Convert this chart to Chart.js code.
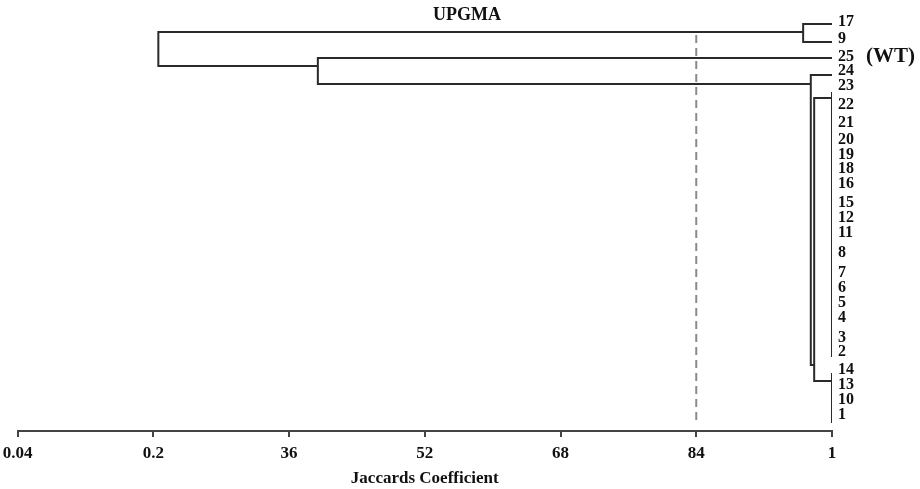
<!DOCTYPE html>
<html>
<head>
<meta charset="utf-8">
<script src="https://cdn.jsdelivr.net/npm/chart.js@4.4.1/dist/chart.umd.min.js"></script>
<style>
  html, body { margin: 0; background: #fff; }
  #wrap { width: 920px; height: 489px; }
</style>
</head>
<body>
<div id="wrap"><canvas id="tree"></canvas></div>
<script>
// similarity axis: tick values and the labels printed under them
const xTickValues = [4, 20, 36, 52, 68, 84, 100];
const xTickLabels = ["0.04", "0.2", "36", "52", "68", "84", "1"];

// leaves, top to bottom, with their row position
const leafLabels = ["17", "9", "25", "24", "23", "22", "21", "20", "19", "18", "16", "15", "12",
                    "11", "8", "7", "6", "5", "4", "3", "2", "14", "13", "10", "1"];
const leafPos = [22, 39, 57, 71, 86, 105, 123, 140, 155, 169, 184, 203, 218,
                 233, 253, 273, 288, 303, 318, 338, 352, 370, 385, 400, 415];

// branches as [similarity, row] polylines
const branch17_9 = [[100, 24], [96.6, 24], [96.6, 42], [100, 42]];
const branchRoot = [[96.6, 32], [20.6, 32], [20.6, 66], [39.4, 66]];
const branch25 = [[100, 58], [39.4, 58], [39.4, 84], [97.5, 84]];
const branch24 = [[100, 75], [97.5, 75], [97.5, 365], [97.9, 365]];
const branchGroups = [[100, 98], [97.9, 98], [97.9, 381], [100, 381]];
const groupA = [[100, 92], [100, 357]];
const groupB = [[100, 373], [100, 423]];
const cutoffLine = [[84, 35], [84, 421]];

const serif = "'Liberation Serif', 'Times New Roman', serif";
const ink = "#2a2a2a";

const toPts = arr => arr.map(p => ({ x: p[0], y: p[1] }));
const treeSets = [branch17_9, branchRoot, branch25, branch24, branchGroups, groupA, groupB].map(b => ({
  data: toPts(b),
  showLine: true,
  borderColor: ink,
  borderWidth: 2,
  pointRadius: 0,
  tension: 0
}));
treeSets.push({
  data: toPts(cutoffLine),
  showLine: true,
  borderColor: "#8a8a8a",
  borderWidth: 2,
  borderDash: [8, 5],
  pointRadius: 0
});

const extraText = {
  id: "extraText",
  afterDraw(chart) {
    const ctx = chart.ctx;
    const ys = chart.scales.y;
    ctx.save();
    ctx.fillStyle = "#111";
    ctx.textBaseline = "middle";
    ctx.textAlign = "center";
    ctx.font = "bold 18px " + serif;
    ctx.fillText("UPGMA", 467, 15);
    ctx.textAlign = "left";
    ctx.font = "bold 21px " + serif;
    ctx.fillText("(WT)", 866, ys.getPixelForValue(leafPos[2]));
    ctx.restore();
  }
};

new Chart(document.getElementById("tree"), {
  type: "scatter",
  data: { datasets: treeSets },
  plugins: [extraText],
  options: {
    responsive: true,
    maintainAspectRatio: false,
    animation: false,
    layout: { padding: { left: 17.5, top: 0, right: 0, bottom: 0 } },
    plugins: { legend: { display: false }, tooltip: { enabled: false } },
    scales: {
      x: {
        type: "linear",
        position: "bottom",
        min: 4,
        max: 100,
        afterBuildTicks: s => { s.ticks = xTickValues.map(v => ({ value: v })); },
        afterFit: s => { s.height = 58; s.paddingLeft = 0; s.paddingRight = 0; },
        grid: { drawOnChartArea: false, drawTicks: true, tickLength: 6, color: "#444", lineWidth: 2 },
        border: { display: true, color: "#444", width: 2 },
        ticks: {
          autoSkip: false,
          maxRotation: 0,
          padding: 6,
          color: "#111",
          font: { family: serif, weight: "bold", size: 17 },
          callback: (v, i) => xTickLabels[i]
        },
        title: {
          display: true,
          text: "Jaccards Coefficient",
          color: "#111",
          font: { family: serif, weight: "bold", size: 17 },
          padding: { top: 0, bottom: 0 }
        }
      },
      y: {
        type: "linear",
        position: "right",
        reverse: true,
        min: 0,
        max: 431,
        afterBuildTicks: s => { s.ticks = leafPos.map(v => ({ value: v })); },
        afterFit: s => { s.width = 88; s.paddingTop = 0; s.paddingBottom = 0; },
        grid: { display: false, drawTicks: false },
        border: { display: false },
        ticks: {
          autoSkip: false,
          padding: 6,
          color: "#111",
          font: { family: serif, weight: "bold", size: 16 },
          callback: (v, i) => leafLabels[i]
        }
      }
    }
  }
});
</script>
</body>
</html>
